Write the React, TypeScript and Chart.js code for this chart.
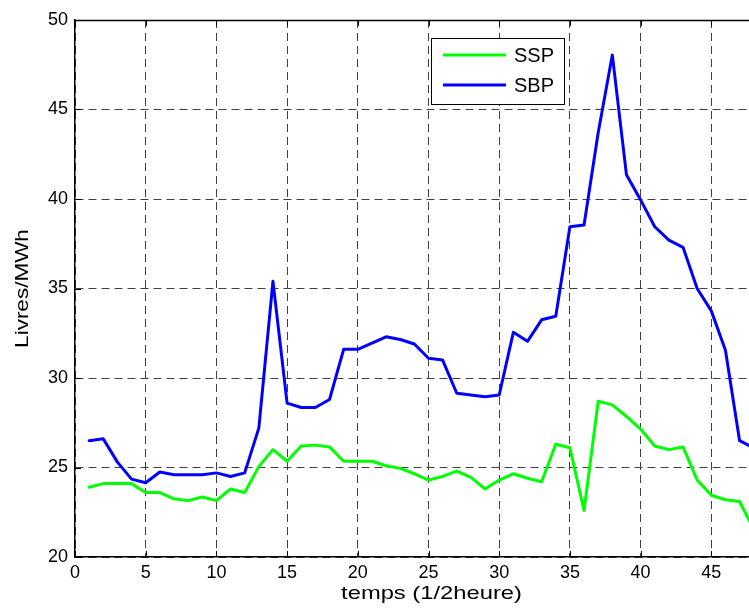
import React, { useEffect, useRef } from "react";
import { Chart, registerables } from "chart.js";

Chart.register(...registerables);

// ---- data ----
const halfHours = [
  1, 2, 3, 4, 5, 6, 7, 8, 9, 10, 11, 12, 13, 14, 15, 16, 17, 18, 19, 20, 21, 22, 23, 24,
  25, 26, 27, 28, 29, 30, 31, 32, 33, 34, 35, 36, 37, 38, 39, 40, 41, 42, 43, 44, 45, 46, 47, 48,
];

const ssp = [
  23.9, 24.1, 24.1, 24.1, 23.6, 23.6, 23.25, 23.15, 23.35, 23.15, 23.8, 23.6,
  25.05, 26.0, 25.35, 26.2, 26.25, 26.15, 25.35, 25.35, 25.35, 25.1, 24.95, 24.65,
  24.3, 24.5, 24.8, 24.45, 23.8, 24.3, 24.65, 24.4, 24.2, 26.3, 26.1, 22.6,
  28.7, 28.5, 27.85, 27.15, 26.2, 26.0, 26.15, 24.3, 23.45, 23.2, 23.1, 21.55,
];

const sbp = [
  26.5, 26.6, 25.3, 24.35, 24.15, 24.75, 24.6, 24.6, 24.6, 24.7, 24.5, 24.7,
  27.2, 35.4, 28.6, 28.35, 28.35, 28.8, 31.6, 31.6, 31.95, 32.3, 32.15, 31.9,
  31.1, 31.0, 29.15, 29.05, 28.95, 29.05, 32.55, 32.05, 33.25, 33.45, 38.45, 38.55,
  43.7, 48.05, 41.35, 39.95, 38.45, 37.7, 37.3, 35.0, 33.75, 31.55, 26.5, 26.1,
];

const seriesLabels = ["SSP", "SBP"];
const seriesColors = ["#00ff00", "#0000ff"];
const xRange = [0, 50];
const yRange = [20, 50];
const tickStep = 5;
const xTitle = "temps (1/2heure)";
const yTitle = "Livres/MWh";

const FONT = "'Liberation Sans', Arial, Helvetica, sans-serif";

const decorPlugin = {
  id: "matlabDecor",
  afterDraw(chart: any) {
    const { ctx, chartArea, scales } = chart;
    const { left, right, top, bottom } = chartArea;
    const xs = scales.x;
    const ys = scales.y;
    ctx.save();

    // top border
    ctx.strokeStyle = "#000";
    ctx.lineWidth = 1.5;
    ctx.beginPath();
    ctx.moveTo(left, top + 0.5);
    ctx.lineTo(right, top + 0.5);
    ctx.stroke();

    // inner tick marks
    ctx.lineWidth = 1;
    ctx.beginPath();
    xs.ticks.forEach((t: any) => {
      const px = Math.round(xs.getPixelForValue(t.value)) + 0.5;
      ctx.moveTo(px, bottom);
      ctx.lineTo(px, bottom - 6);
      ctx.moveTo(px, top);
      ctx.lineTo(px, top + 6);
    });
    ys.ticks.forEach((t: any) => {
      const py = Math.round(ys.getPixelForValue(t.value)) + 0.5;
      ctx.moveTo(left, py);
      ctx.lineTo(left + 6, py);
    });
    ctx.stroke();

    // legend box
    const bx = 431, by = 38, bw = 133, bh = 66;
    ctx.fillStyle = "#fff";
    ctx.fillRect(bx, by, bw, bh);
    ctx.strokeStyle = "#000";
    ctx.lineWidth = 1;
    ctx.strokeRect(bx + 0.5, by + 0.5, bw, bh);
    chart.data.datasets.forEach((ds: any, i: number) => {
      const ly = 55 + i * 30;
      ctx.strokeStyle = ds.borderColor;
      ctx.lineWidth = 3;
      ctx.beginPath();
      ctx.moveTo(443, ly);
      ctx.lineTo(506, ly);
      ctx.stroke();
      ctx.fillStyle = "#000";
      ctx.font = `20px ${FONT}`;
      ctx.textAlign = "left";
      ctx.textBaseline = "middle";
      ctx.fillText(ds.label, 514, ly + 1);
    });

    // x title
    ctx.fillStyle = "#000";
    ctx.save();
    ctx.translate(431.5, 599);
    ctx.scale(1.25, 1);
    ctx.font = `19px ${FONT}`;
    ctx.textAlign = "center";
    ctx.textBaseline = "alphabetic";
    ctx.fillText(xTitle, 0, 0);
    ctx.restore();

    // y title
    ctx.save();
    ctx.translate(28, (top + bottom) / 2);
    ctx.rotate(-Math.PI / 2);
    ctx.scale(1.25, 1);
    ctx.font = `18px ${FONT}`;
    ctx.textAlign = "center";
    ctx.textBaseline = "alphabetic";
    ctx.fillText(yTitle, 0, 0);
    ctx.restore();

    ctx.restore();
  },
};

export default function App() {
  const canvasRef = useRef<HTMLCanvasElement | null>(null);

  useEffect(() => {
    const canvas = canvasRef.current;
    if (!canvas) return;
    const series = [ssp, sbp];
    const chart = new Chart(canvas, {
      type: "line",
      data: {
        datasets: series.map((vals, i) => ({
          label: seriesLabels[i],
          data: halfHours.map((h, j) => ({ x: h, y: vals[j] })),
          borderColor: seriesColors[i],
          backgroundColor: seriesColors[i],
          borderWidth: 3,
          borderJoinStyle: "round",
          borderCapStyle: "round",
          pointRadius: 0,
          tension: 0,
          fill: false,
        })),
      },
      options: {
        animation: false,
        responsive: false,
        maintainAspectRatio: false,
        layout: { padding: { top: 20, right: 18, bottom: 0, left: 0 } },
        plugins: { legend: { display: false }, tooltip: { enabled: false } },
        scales: {
          x: {
            type: "linear",
            min: xRange[0],
            max: xRange[1],
            ticks: {
              stepSize: tickStep,
              color: "#000",
              font: { family: FONT, size: 18 },
              padding: 5,
              maxRotation: 0,
              includeBounds: false,
            },
            grid: { color: "#404040", lineWidth: 1, drawTicks: false },
            border: { display: true, color: "#000", width: 1.5, dash: [8, 5] },
            afterFit: (s: any) => {
              s.height = 55;
            },
          },
          y: {
            type: "linear",
            min: yRange[0],
            max: yRange[1],
            ticks: {
              stepSize: tickStep,
              color: "#000",
              font: { family: FONT, size: 18 },
              padding: 7,
              includeBounds: false,
            },
            grid: { color: "#404040", lineWidth: 1, drawTicks: false },
            border: { display: true, color: "#000", width: 1.5, dash: [8, 5] },
            afterFit: (s: any) => {
              s.width = 75;
            },
          },
        },
      },
      plugins: [decorPlugin],
    });
    return () => chart.destroy();
  }, []);

  return (
    <div
      style={{
        position: "fixed",
        left: 0,
        top: 0,
        width: 749,
        height: 612,
        overflow: "hidden",
        background: "#fff",
      }}
    >
      <canvas ref={canvasRef} width={800} height={612} style={{ display: "block" }} />
    </div>
  );
}
